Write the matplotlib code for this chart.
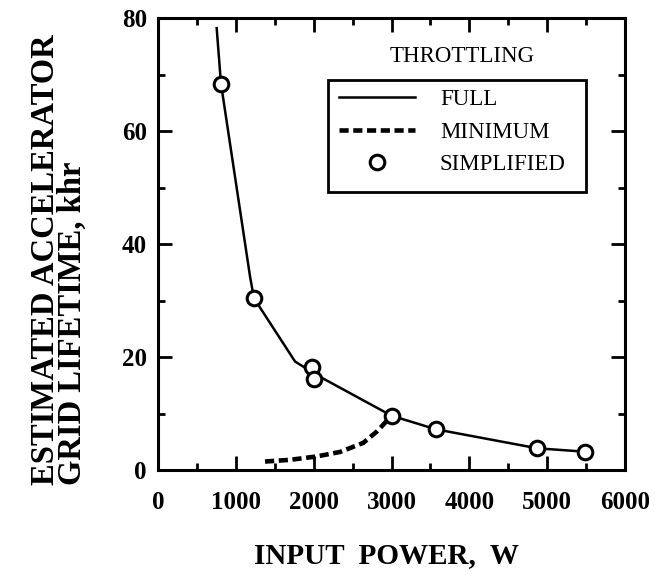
import matplotlib
matplotlib.use("Agg")
import matplotlib.pyplot as plt
from matplotlib.lines import Line2D
from matplotlib.patches import Rectangle
from matplotlib.ticker import MultipleLocator

# Data
full_x = [754, 809, 1183, 1233, 1761, 2040, 3002, 3572, 4874, 5486]
full_y = [78.2, 68.4, 34.2, 30.4, 19.2, 16.8, 9.6, 7.2, 3.84, 3.24]

min_x = [1375, 1697, 2040, 2340, 2637, 2811, 3002]
min_y = [1.5, 1.8, 2.4, 3.2, 4.8, 6.8, 9.6]

simp_x = [809, 1233, 1983, 2004, 3002, 3572, 4874, 5486]
simp_y = [68.4, 30.4, 18.2, 16.05, 9.56, 7.2, 3.84, 3.24]

xticks = [0, 1000, 2000, 3000, 4000, 5000, 6000]
yticks = [0, 20, 40, 60, 80]
legend_labels = ['FULL', 'MINIMUM', 'SIMPLIFIED']

plt.rcParams['font.family'] = ['Liberation Serif', 'DejaVu Serif']

W, H = 655, 575
fig = plt.figure(figsize=(W / 100, H / 100), dpi=100)
ax = fig.add_axes([158 / W, 1 - 470 / H, (625 - 158) / W, (470 - 18) / H])

ax.plot(full_x, full_y, color='black', lw=1.8, solid_joinstyle='miter')
ax.plot(min_x, min_y, color='black', lw=3.3, dashes=(2.0, 1.0))
ax.plot(simp_x, simp_y, 'o', ms=10.5, mfc='white', mec='black', mew=2.2, ls='none')

ax.set_xlim(0, 6000)
ax.set_ylim(0, 80)
ax.set_xticks(xticks)
ax.set_yticks(yticks)
ax.xaxis.set_minor_locator(MultipleLocator(500))
ax.yaxis.set_minor_locator(MultipleLocator(10))
ax.tick_params(which='both', direction='in', top=True, right=True, width=2)
ax.tick_params(which='major', length=10, labelsize=18)
ax.tick_params(which='minor', length=5)
ax.tick_params(axis='x', which='major', pad=15)
ax.tick_params(axis='y', which='major', pad=8)
for lab in ax.get_xticklabels() + ax.get_yticklabels():
    lab.set_fontweight('bold')
for s in ax.spines.values():
    s.set_linewidth(2.2)

# Axis titles
fig.text(386 / W, 1 - 563 / H, 'INPUT  POWER,  W', fontsize=21, fontweight='bold',
         ha='center', va='baseline')
fig.text(59 / W, 1 - 485 / H, 'ESTIMATED ACCELERATOR\nGRID LIFETIME, khr',
         fontsize=23.5, fontweight='bold', rotation=90, ha='center', va='bottom',
         multialignment='left', linespacing=0.85)

# Legend
handles = [Line2D([], [], color='black', lw=1.8),
           Line2D([], [], color='black', lw=3.3, dashes=(2.0, 1.0)),
           Line2D([], [], marker='o', ls='none', ms=10.5, mfc='white', mec='black', mew=2.2)]
leg = ax.legend(handles, legend_labels,
                loc='upper left', bbox_to_anchor=(339 / W, 1 - 89 / H),
                bbox_transform=fig.transFigure, borderaxespad=0, borderpad=0,
                fontsize=16.5, handlelength=3.3, handletextpad=1.1,
                labelspacing=0.5, frameon=False)
fig.patches.append(Rectangle((328 / W, 1 - 191.5 / H), (586 - 328) / W, (191.5 - 80) / H,
                             transform=fig.transFigure, fill=False, ec='black', lw=2))
fig.text(462 / W, 1 - 57 / H, 'THROTTLING', fontsize=16.5, ha='center', va='center')

fig.savefig('out.png', dpi=100)
